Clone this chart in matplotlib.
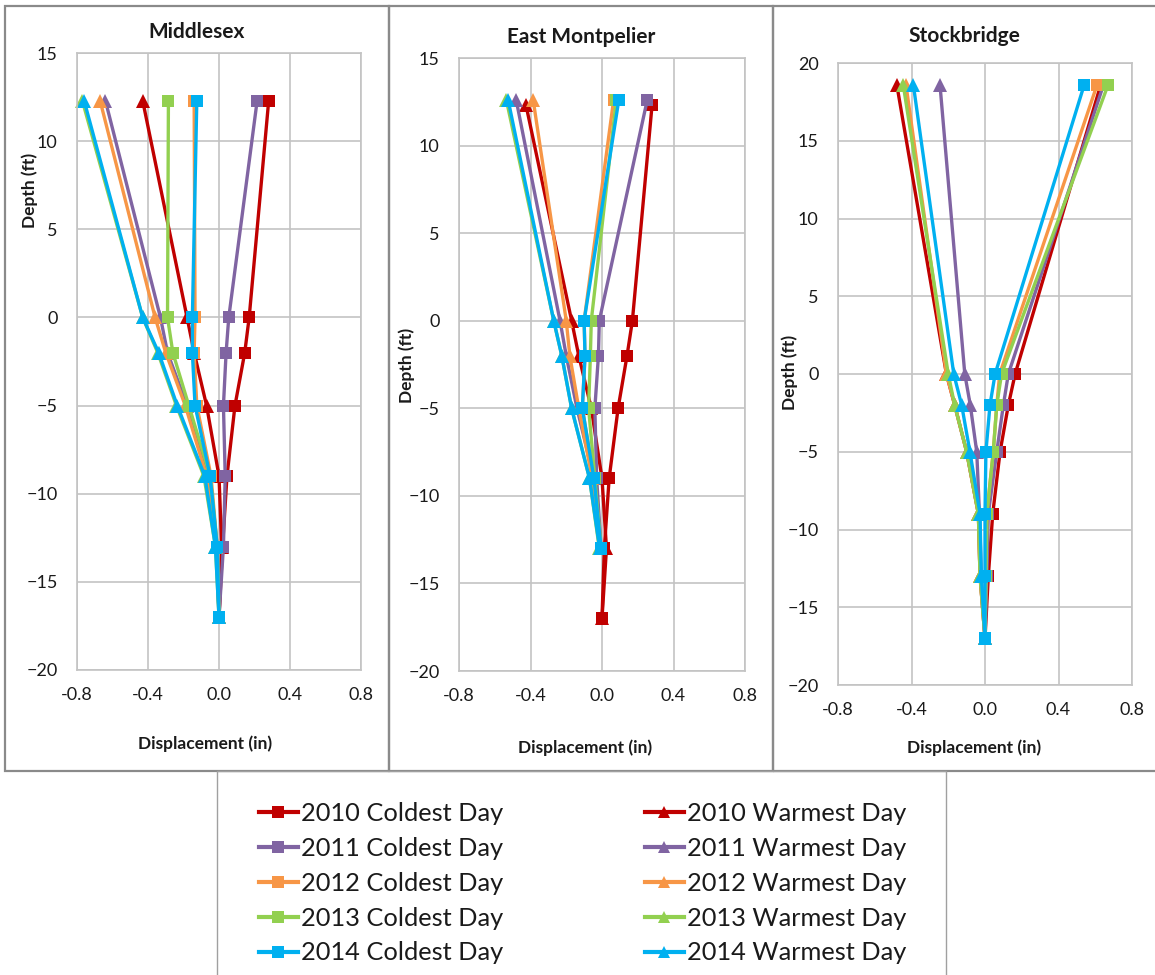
import matplotlib
matplotlib.use("Agg")
import matplotlib.pyplot as plt
from matplotlib.lines import Line2D
from matplotlib.patches import Rectangle

plt.rcParams["font.family"] = ["Lato", "DejaVu Sans"]

# ---- data -------------------------------------------------------------
YEARS = ["2010", "2011", "2012", "2013", "2014"]
COLORS = ["#C00000", "#8064A2", "#F79646", "#92D050", "#00B0F0"]
SITES = ["Middlesex", "East Montpelier", "Stockbridge"]

# Middlesex: depth (ft) and displacement (in)
MID_DEPTH = [12.3, 0, -2, -5, -9, -13, -17]
MID_COLD = [
    [0.28, 0.17, 0.145, 0.09, 0.045, 0.02, 0.0],
    [0.215, 0.055, 0.04, 0.025, 0.035, 0.025, 0.0],
    [-0.14, -0.135, -0.14, -0.125, -0.045, -0.01, 0.0],
    [-0.285, -0.29, -0.26, -0.17, -0.05, -0.01, 0.0],
    [-0.125, -0.15, -0.15, -0.135, -0.05, -0.01, 0.0],
]
MID_WARM = [
    [-0.43, -0.18, -0.14, -0.07, 0.0, 0.015, 0.0],
    [-0.64, -0.33, -0.29, -0.18, -0.06, -0.01, 0.0],
    [-0.67, -0.36, -0.30, -0.19, -0.07, -0.015, 0.0],
    [-0.77, -0.43, -0.345, -0.24, -0.085, -0.02, 0.0],
    [-0.76, -0.43, -0.34, -0.235, -0.08, -0.02, 0.0],
]

# East Montpelier: 2010 readings reach deeper than later years
EM_DEPTH_2010 = [12.3, 0, -2, -5, -9, -13, -17]
EM_DEPTH = [12.6, 0, -2, -5, -9, -13]
EM_COLD = [
    [0.28, 0.17, 0.14, 0.09, 0.04, 0.013, 0.0],
    [0.253, -0.015, -0.02, -0.04, -0.03, -0.005],
    [0.065, -0.10, -0.095, -0.11, -0.045, -0.005],
    [0.08, -0.06, -0.065, -0.075, -0.04, -0.005],
    [0.094, -0.10, -0.095, -0.11, -0.045, -0.005],
]
EM_WARM = [
    [-0.425, -0.17, -0.13, -0.06, 0.0, 0.025, 0.0],
    [-0.48, -0.235, -0.20, -0.14, -0.045, -0.01],
    [-0.385, -0.20, -0.18, -0.13, -0.055, -0.01],
    [-0.535, -0.27, -0.225, -0.17, -0.07, -0.015],
    [-0.525, -0.27, -0.225, -0.17, -0.07, -0.013],
]

# Stockbridge
SB_DEPTH = [18.6, 0, -2, -5, -9, -13, -17]
SB_COLD = [
    [0.63, 0.164, 0.127, 0.082, 0.042, 0.018, 0.0],
    [0.645, 0.127, 0.10, 0.064, 0.018, 0.01, 0.0],
    [0.61, 0.08, 0.064, 0.045, 0.01, 0.005, 0.0],
    [0.67, 0.09, 0.064, 0.045, 0.01, 0.005, 0.0],
    [0.54, 0.055, 0.027, 0.005, 0.0, 0.0, 0.0],
]
SB_WARM = [
    [-0.48, -0.21, -0.165, -0.10, -0.036, -0.027, 0.0],
    [-0.245, -0.11, -0.08, -0.045, -0.03, -0.02, 0.0],
    [-0.43, -0.21, -0.165, -0.10, -0.036, -0.027, 0.0],
    [-0.445, -0.20, -0.165, -0.10, -0.036, -0.027, 0.0],
    [-0.39, -0.17, -0.127, -0.082, -0.027, -0.02, 0.0],
]

X_TICKS = [-0.8, -0.4, 0.0, 0.4, 0.8]
X_LABEL = "Displacement (in)"
Y_LABEL = "Depth (ft)"

# ---- figure -----------------------------------------------------------
W, H = 1155, 975
DPI = 100
fig = plt.figure(figsize=(W / DPI, H / DPI), dpi=DPI)


def rect(l, t, r, b):
    return [l / W, 1 - b / H, (r - l) / W, (b - t) / H]


def fx(x):
    return x / W


def fy(y):
    return 1 - y / H


GRID = "#C3C3C3"
FRAME = "#8A8A8A"

# panel frames
for l, r in [(5, 389), (389, 773), (773, 1158)]:
    fig.patches.append(Rectangle((fx(l), fy(771)), fx(r - l), (771 - 6) / H,
                                 transform=fig.transFigure, fill=False,
                                 edgecolor=FRAME, linewidth=1.6, zorder=0))
# legend frame
fig.patches.append(Rectangle((fx(217), fy(980)), fx(946 - 217), (980 - 771) / H,
                             transform=fig.transFigure, fill=False,
                             edgecolor="#A0A0A0", linewidth=1.0, zorder=0))

panels = [
    dict(box=(77, 53, 361, 670), ylim=(-20, 15), title_x=197, title_y=32,
         xl=(205, 744), yl=(30, 190),
         depth_c=[MID_DEPTH] * 5, depth_w=[MID_DEPTH] * 5,
         cold=MID_COLD, warm=MID_WARM),
    dict(box=(459, 58, 745, 671), ylim=(-20, 15), title_x=581, title_y=37,
         xl=(585, 748), yl=(407, 365),
         depth_c=[EM_DEPTH_2010] + [EM_DEPTH] * 4,
         depth_w=[EM_DEPTH_2010] + [EM_DEPTH] * 4,
         cold=EM_COLD, warm=EM_WARM),
    dict(box=(838, 63, 1132, 685), ylim=(-20, 20), title_x=964, title_y=36,
         xl=(974, 748), yl=(790, 372),
         depth_c=[SB_DEPTH] * 5, depth_w=[SB_DEPTH] * 5,
         cold=SB_COLD, warm=SB_WARM),
]

handles_c, handles_w = [], []
for site, p in zip(SITES, panels):
    ax = fig.add_axes(rect(*p["box"]))
    ax.set_xlim(-0.8, 0.8)
    ax.set_ylim(*p["ylim"])
    ax.set_xticks(X_TICKS)
    ax.set_xticklabels([f"{v:.1f}" for v in X_TICKS])
    ax.set_yticks(range(p["ylim"][0], p["ylim"][1] + 1, 5))
    ax.grid(True, color=GRID, linewidth=1.2)
    ax.set_axisbelow(True)
    for s in ax.spines.values():
        s.set_color(GRID)
        s.set_linewidth(1.2)
    ax.tick_params(axis="both", length=0, labelsize=13, colors="#1a1a1a")
    ax.tick_params(axis="y", pad=14)
    ax.tick_params(axis="x", pad=12)

    for i, (yr, col) in enumerate(zip(YEARS, COLORS)):
        hc, = ax.plot(p["cold"][i], p["depth_c"][i], color=col, linewidth=2.4,
                      marker="s", markersize=9, markeredgewidth=0,
                      label=f"{yr} Coldest Day", clip_on=False)
        hw, = ax.plot(p["warm"][i], p["depth_w"][i], color=col, linewidth=2.4,
                      marker="^", markersize=10, markeredgewidth=0,
                      label=f"{yr} Warmest Day", clip_on=False)
        if site == SITES[0]:
            handles_c.append(hc)
            handles_w.append(hw)

    fig.text(fx(p["title_x"]), fy(p["title_y"]), site, ha="center", va="center",
             fontsize=15, fontweight="bold", color="#1a1a1a")
    fig.text(fx(p["xl"][0]), fy(p["xl"][1]), X_LABEL, ha="center", va="center",
             fontsize=12.5, fontweight="bold", color="#1a1a1a")
    fig.text(fx(p["yl"][0]), fy(p["yl"][1]), Y_LABEL, ha="center", va="center",
             rotation=90, fontsize=12.5, fontweight="bold", color="#1a1a1a")

leg_handles = [Line2D([], [], color=h.get_color(), marker=h.get_marker(),
                      markersize=8, markeredgewidth=0, linewidth=3)
               for h in handles_c + handles_w]
leg_labels = [h.get_label() for h in handles_c + handles_w]
fig.legend(leg_handles, leg_labels, ncol=2, frameon=False,
           loc="upper left", bbox_to_anchor=(fx(246), fy(789)),
           fontsize=18.3, handlelength=1.55, handletextpad=0.1,
           columnspacing=5.58, labelspacing=0.47, borderpad=0,
           labelcolor="#1a1a1a")

fig.savefig("out.png", dpi=DPI)
